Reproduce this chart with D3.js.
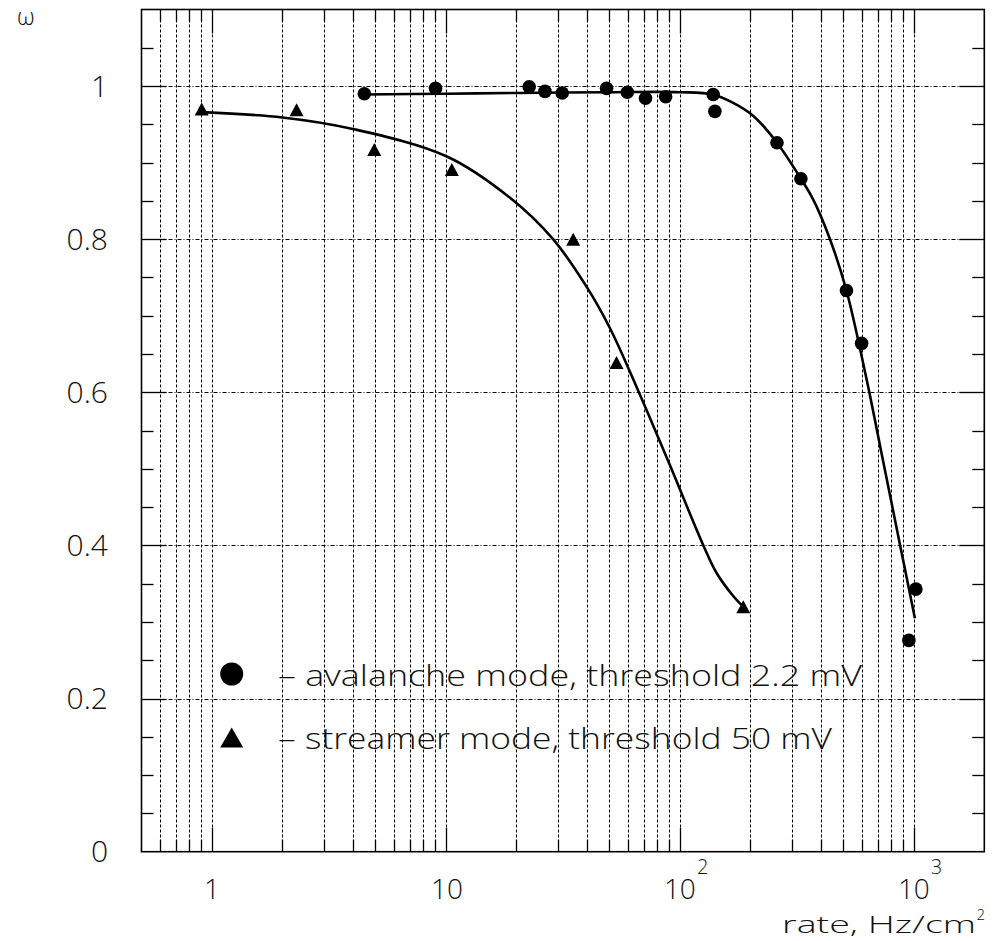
<!DOCTYPE html>
<html>
<head>
<meta charset="utf-8">
<script src="https://cdn.jsdelivr.net/npm/d3@7"></script>
<style>
  html, body { margin: 0; padding: 0; background: #fff; }
  svg { display: block; }
  text { font-family: "Open Sans", "Liberation Sans", sans-serif; font-weight: 300; fill: #111; }
</style>
</head>
<body>
<script>
// ---------- data ----------
const avalancheRate = [4.48, 9.03, 22.7, 26.5, 31.4, 48.6, 59.6, 71.3, 86.9, 138.8, 141.1, 260, 329, 515, 598, 952, 1020];
const avalancheEff  = [0.990, 0.997, 0.999, 0.993, 0.991, 0.997, 0.992, 0.984, 0.986, 0.989, 0.967, 0.926, 0.879, 0.733, 0.664, 0.276, 0.343];

const streamerRate = [0.904, 2.30, 4.94, 10.6, 35.0, 53.6, 186.6];
const streamerEff  = [0.970, 0.969, 0.917, 0.891, 0.800, 0.639, 0.320];

// fitted curves
const avalancheFitRate = [4.48, 10, 20, 50, 100, 138, 169, 206, 260, 329, 371, 438, 515, 628, 716, 816, 871, 946, 1010];
const avalancheFitEff  = [0.989, 0.990, 0.991, 0.992, 0.992, 0.989, 0.978, 0.961, 0.926, 0.879, 0.852, 0.800, 0.733, 0.617, 0.531, 0.445, 0.402, 0.348, 0.305];

const streamerFitRate = [0.904, 2, 4, 10.1, 18.8, 28.7, 39.9, 50.2, 65.3, 90.6, 126, 143.5, 169, 186.6];
const streamerFitEff  = [0.966, 0.959, 0.944, 0.908, 0.854, 0.800, 0.738, 0.684, 0.607, 0.505, 0.400, 0.364, 0.334, 0.320];

const yTickLabels = ["0", "0.2", "0.4", "0.6", "0.8", "1"];
const yTickValues = [0, 0.2, 0.4, 0.6, 0.8, 1.0];
const xDecadeValues = [1, 10, 100, 1000];
const xDecadeBase = ["1", "10", "10", "10"];
const xDecadeExp = ["", "", "2", "3"];
const legendLabels = ["\u2013 avalanche mode, threshold 2.2 mV", "\u2013 streamer mode, threshold 50 mV"];
const xTitle = "rate, Hz/cm";
const xTitleExp = "2";
const yTitle = "\u03c9";

// ---------- layout ----------
const W = 996, H = 941;
const L = 141.5, R = 984.3, T = 9.5, B = 851.7;

const svg = d3.select("body").append("svg").attr("width", W).attr("height", H);

const x = d3.scaleLog().domain([0.5, 2000]).range([L, R]);
const y = d3.scaleLinear().domain([0, 1.1]).range([B, T]);

// minor x values 0.6 .. 1000
const xMinor = [];
[0.1, 1, 10, 100].forEach(dec => {
  for (let n = 1; n <= 9; n++) {
    const v = +(n * dec).toPrecision(3);
    if (v >= 0.6 && v <= 1000) xMinor.push(v);
  }
});
xMinor.push(1000);
const xMinorUniq = Array.from(new Set(xMinor));

// ---------- grid ----------
const grid = svg.append("g").attr("stroke", "#000").attr("stroke-width", 1).attr("fill", "none");
grid.selectAll("line.vg").data(xMinorUniq).enter().append("line")
  .attr("x1", d => Math.round(x(d)) + 0.5).attr("x2", d => Math.round(x(d)) + 0.5)
  .attr("y1", T).attr("y2", B)
  .attr("stroke-dasharray", "3,2");
grid.selectAll("line.hg").data(yTickValues.filter(v => v > 0)).enter().append("line")
  .attr("x1", L).attr("x2", R)
  .attr("y1", d => Math.round(y(d)) + 0.5).attr("y2", d => Math.round(y(d)) + 0.5)
  .attr("stroke-dasharray", "4,2,1,2");

// ---------- ticks ----------
const ticks = svg.append("g").attr("stroke", "#000").attr("stroke-width", 1.3);
const xMajorSet = new Set(xDecadeValues);
xMinorUniq.forEach(v => {
  const len = xMajorSet.has(v) ? 24 : 12;
  const px = Math.round(x(v)) + 0.5;
  ticks.append("line").attr("x1", px).attr("x2", px).attr("y1", B).attr("y2", B - len);
  ticks.append("line").attr("x1", px).attr("x2", px).attr("y1", T).attr("y2", T + len);
});
const yMinor = d3.range(0, 23).map(i => +(i * 0.05).toFixed(2)).filter(v => v > 0 && v < 1.1);
yMinor.forEach(v => {
  const major = Math.abs(v * 5 - Math.round(v * 5)) < 1e-6;
  const len = major ? 25 : 12;
  const py = Math.round(y(v)) + 0.5;
  ticks.append("line").attr("x1", L).attr("x2", L + len).attr("y1", py).attr("y2", py);
  ticks.append("line").attr("x1", R).attr("x2", R - len).attr("y1", py).attr("y2", py);
});

// frame
svg.append("rect").attr("x", L).attr("y", T).attr("width", R - L).attr("height", B - T)
  .attr("fill", "none").attr("stroke", "#000").attr("stroke-width", 1.6);

// ---------- curves ----------
const line = d3.line().x(d => x(d[0])).y(d => y(d[1])).curve(d3.curveCatmullRom.alpha(0.5));
svg.append("path").datum(avalancheFitRate.map((r, i) => [r, avalancheFitEff[i]]))
  .attr("d", line).attr("fill", "none").attr("stroke", "#000").attr("stroke-width", 2.6);
svg.append("path").datum(streamerFitRate.map((r, i) => [r, streamerFitEff[i]]))
  .attr("d", line).attr("fill", "none").attr("stroke", "#000").attr("stroke-width", 2.6);

// ---------- markers ----------
function triPath(cx, cy, w, h) {
  return `M${cx - w / 2},${cy + h / 2}L${cx + w / 2},${cy + h / 2}L${cx},${cy - h / 2}Z`;
}
svg.append("g").selectAll("circle").data(avalancheRate.map((r, i) => [r, avalancheEff[i]])).enter()
  .append("circle").attr("cx", d => x(d[0])).attr("cy", d => y(d[1])).attr("r", 6.8).attr("fill", "#000");
svg.append("g").selectAll("path").data(streamerRate.map((r, i) => [r, streamerEff[i]])).enter()
  .append("path").attr("d", d => triPath(x(d[0]), y(d[1]), 14, 13)).attr("fill", "#000");

// ---------- legend ----------
const leg = svg.append("g");
leg.append("circle").attr("cx", 231.7).attr("cy", 674).attr("r", 11.5).attr("fill", "#000");
leg.append("path").attr("d", triPath(231.7, 737.5, 23, 20)).attr("fill", "#000");
leg.append("text").attr("x", 278).attr("y", 686).attr("font-size", 29)
  .attr("textLength", 584).attr("lengthAdjust", "spacingAndGlyphs").text(legendLabels[0]);
leg.append("text").attr("x", 278).attr("y", 749).attr("font-size", 29)
  .attr("textLength", 554).attr("lengthAdjust", "spacingAndGlyphs").text(legendLabels[1]);

// ---------- axis labels ----------
const yl = svg.append("g");
yTickValues.forEach((v, i) => {
  yl.append("text").attr("x", 108).attr("y", y(v) + 10.5).attr("text-anchor", "end")
    .attr("font-size", 30).text(yTickLabels[i]);
});
const xl = svg.append("g");
xDecadeValues.forEach((v, i) => {
  const px = x(v);
  xl.append("text").attr("x", px + (i === 1 ? 1 : 0)).attr("y", 899).attr("text-anchor", "middle")
    .attr("font-size", 28).text(xDecadeBase[i]);
  if (xDecadeExp[i]) {
    xl.append("text").attr("x", px + 17).attr("y", 874).attr("font-size", 20).text(xDecadeExp[i]);
  }
});
svg.append("text").attr("x", 782).attr("y", 933).attr("font-size", 23.5)
  .attr("textLength", 194).attr("lengthAdjust", "spacingAndGlyphs").text(xTitle);
svg.append("text").attr("x", 976.5).attr("y", 920).attr("font-size", 15).text(xTitleExp);
svg.append("text").attr("x", 17).attr("y", 25).attr("font-size", 24).text(yTitle);
</script>
</body>
</html>
